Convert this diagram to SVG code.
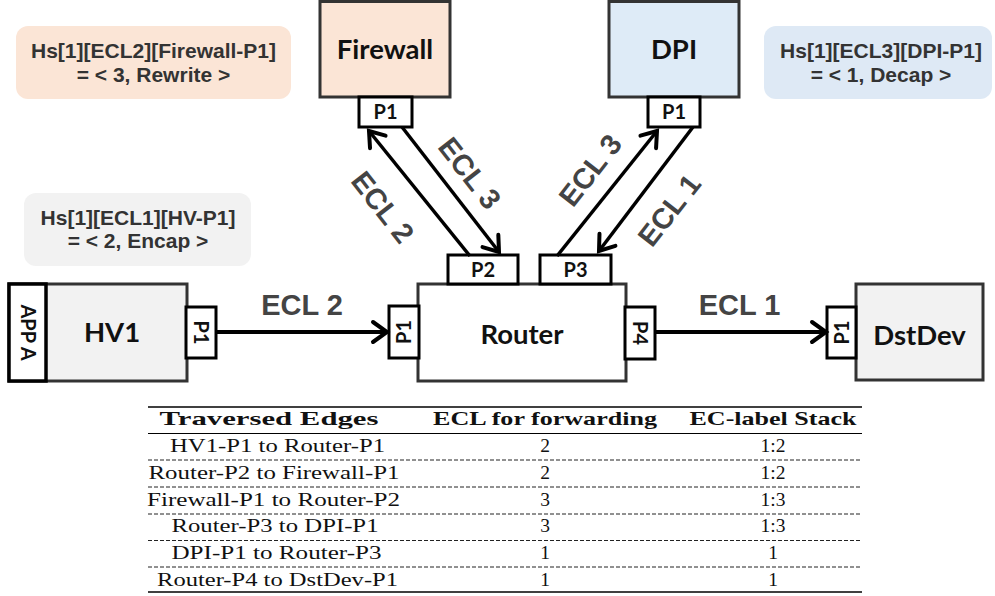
<svg xmlns="http://www.w3.org/2000/svg" width="995" height="596" viewBox="0 0 995 596">
  <defs>
    <style>
      .box { stroke: #333; stroke-width: 3; }
      .port { fill: #fff; stroke: #000; stroke-width: 3; }
      .name { font-family: Lato, "Open Sans", sans-serif; font-weight: 700; font-size: 27.5px; fill: #111; text-anchor: middle; }
      .pl { font-family: Lato, "Open Sans", sans-serif; font-weight: 700; font-size: 20px; fill: #111; text-anchor: middle; }
      .note { font-family: "Liberation Sans", Arial, sans-serif; font-weight: 700; font-size: 21px; fill: #333; text-anchor: middle; }
      .ecl { font-family: "Liberation Sans", Arial, sans-serif; font-weight: 700; font-size: 29px; fill: #444; text-anchor: middle; }
      .wire { stroke: #000; fill: none; }
      .th { font-family: "Liberation Serif", "Times New Roman", serif; font-weight: 700; font-size: 19.5px; fill: #111; text-anchor: middle; }
      .td { font-family: "Liberation Serif", "Times New Roman", serif; font-size: 19.5px; fill: #111; text-anchor: middle; }
      .rule { stroke: #000; }
      .dash { stroke: #222; stroke-width: 1; stroke-dasharray: 4 2; }
    </style>
    <marker id="chev" markerUnits="userSpaceOnUse" viewBox="-20 -14 24 28" markerWidth="24" markerHeight="28" refX="0" refY="0" orient="auto">
      <path d="M-14,-10 L0,0 L-14,10" fill="none" stroke="#000" stroke-width="4" stroke-linecap="round" stroke-linejoin="miter"/>
    </marker>
  </defs>

  <!-- header-action notes -->
  <g id="note-firewall">
    <rect x="16" y="26" width="275" height="73" rx="12" fill="#fbe5d6"/>
    <text class="note" x="153.5" y="58">Hs[1][ECL2][Firewall-P1]</text>
    <text class="note" x="153.5" y="82">=  &lt; 3, Rewrite &gt;</text>
  </g>
  <g id="note-dpi">
    <rect x="764" y="26" width="228" height="73" rx="12" fill="#dee9f5"/>
    <text class="note" x="881" y="58">Hs[1][ECL3][DPI-P1]</text>
    <text class="note" x="881" y="82">=  &lt; 1, Decap &gt;</text>
  </g>
  <g id="note-hv">
    <rect x="24" y="193" width="227" height="73" rx="12" fill="#f2f2f2"/>
    <text class="note" x="138" y="225">Hs[1][ECL1][HV-P1]</text>
    <text class="note" x="138" y="248">= &lt; 2, Encap &gt;</text>
  </g>

  <!-- nodes -->
  <g id="firewall">
    <rect class="box" x="320" y="1.5" width="130" height="95.5" fill="#fbe5d6"/>
    <text class="name" x="385" y="59">Firewall</text>
    <rect class="port" x="359" y="97" width="53" height="30"/>
    <text class="pl" x="385.5" y="119">P1</text>
  </g>
  <g id="dpi">
    <rect class="box" x="609" y="1.5" width="130" height="95.5" fill="#deebf7"/>
    <text class="name" x="674" y="59">DPI</text>
    <rect class="port" x="648" y="97" width="52" height="30"/>
    <text class="pl" x="674" y="119">P1</text>
  </g>
  <g id="hv1">
    <rect class="box" x="9" y="284" width="178" height="97" fill="#f2f2f2"/>
    <rect x="9" y="284" width="37" height="97" fill="#fff" stroke="#000" stroke-width="3.5"/>
    <text class="pl" transform="translate(27.5 332.5) rotate(90)" y="7">APP A</text>
    <text class="name" x="112" y="342">HV1</text>
    <rect class="port" x="186" y="307" width="30" height="51"/>
    <text class="pl" transform="translate(201 332.5) rotate(90)" y="7">P1</text>
  </g>
  <g id="router">
    <rect class="box" x="418" y="284" width="208" height="97" fill="#fff"/>
    <text class="name" x="522" y="344">Router</text>
    <rect class="port" x="448" y="255" width="70" height="29"/>
    <text class="pl" x="483" y="277">P2</text>
    <rect class="port" x="540" y="255" width="71" height="29"/>
    <text class="pl" x="575.5" y="277">P3</text>
    <rect class="port" x="389" y="306" width="30" height="52"/>
    <text class="pl" transform="translate(404 332) rotate(-90)" y="7">P1</text>
    <rect class="port" x="625" y="307" width="30" height="52"/>
    <text class="pl" transform="translate(640 333) rotate(90)" y="7">P4</text>
  </g>
  <g id="dstdev">
    <rect class="box" x="856" y="284" width="127" height="96" fill="#f2f2f2"/>
    <text class="name" x="919.5" y="345">DstDev</text>
    <rect class="port" x="827" y="307" width="29" height="51"/>
    <text class="pl" transform="translate(841.5 332.5) rotate(-90)" y="7">P1</text>
  </g>

  <!-- connectors -->
  <g id="connectors">
    <line class="wire" x1="216" y1="332" x2="387" y2="332" stroke-width="4" marker-end="url(#chev)"/>
    <line class="wire" x1="655" y1="332" x2="826" y2="332" stroke-width="4" marker-end="url(#chev)"/>
    <line class="wire" x1="470" y1="256" x2="369" y2="131" stroke-width="3.5" marker-end="url(#chev)"/>
    <line class="wire" x1="402" y1="127" x2="499" y2="252" stroke-width="3.5" marker-end="url(#chev)"/>
    <line class="wire" x1="557" y1="256" x2="657" y2="131" stroke-width="3.5" marker-end="url(#chev)"/>
    <line class="wire" x1="693" y1="127" x2="599" y2="251" stroke-width="3.5" marker-end="url(#chev)"/>
  </g>

  <!-- edge labels -->
  <g id="edge-labels">
    <text class="ecl" x="302" y="315">ECL 2</text>
    <text class="ecl" x="739.5" y="315">ECL 1</text>
    <text class="ecl" transform="translate(383 207) rotate(52)" y="10.4">ECL 2</text>
    <text class="ecl" transform="translate(470 173) rotate(52)" y="10.4">ECL 3</text>
    <text class="ecl" transform="translate(590 170) rotate(-52)" y="10.4">ECL 3</text>
    <text class="ecl" transform="translate(669 210) rotate(-52)" y="10.4">ECL 1</text>
  </g>

  <!-- forwarding table -->
  <g id="table">
    <line class="rule" x1="148" y1="407" x2="862" y2="407" stroke-width="1.6"/>
    <line class="rule" x1="148" y1="433.5" x2="862" y2="433.5" stroke-width="1"/>
    <line class="dash" x1="148" y1="460" x2="862" y2="460"/>
    <line class="dash" x1="148" y1="487" x2="862" y2="487"/>
    <line class="dash" x1="148" y1="514" x2="862" y2="514"/>
    <line class="dash" x1="148" y1="540.5" x2="862" y2="540.5"/>
    <line class="dash" x1="148" y1="567" x2="862" y2="567"/>
    <line class="rule" x1="148" y1="592" x2="862" y2="592" stroke-width="1.6"/>

    <text class="th" x="269" y="425" textLength="219" lengthAdjust="spacingAndGlyphs">Traversed Edges</text>
    <text class="th" x="545" y="425" textLength="224" lengthAdjust="spacingAndGlyphs">ECL for forwarding</text>
    <text class="th" x="773" y="425" textLength="167" lengthAdjust="spacingAndGlyphs">EC-label Stack</text>

    <text class="td" x="277.5" y="452" textLength="215" lengthAdjust="spacingAndGlyphs">HV1-P1 to Router-P1</text>
    <text class="td" x="545" y="452">2</text>
    <text class="td" x="773" y="452">1:2</text>

    <text class="td" x="274" y="479" textLength="251" lengthAdjust="spacingAndGlyphs">Router-P2 to Firewall-P1</text>
    <text class="td" x="545" y="479">2</text>
    <text class="td" x="773" y="479">1:2</text>

    <text class="td" x="273.5" y="505.5" textLength="253" lengthAdjust="spacingAndGlyphs">Firewall-P1 to Router-P2</text>
    <text class="td" x="545" y="505.5">3</text>
    <text class="td" x="773" y="505.5">1:3</text>

    <text class="td" x="275" y="532" textLength="207" lengthAdjust="spacingAndGlyphs">Router-P3 to DPI-P1</text>
    <text class="td" x="545" y="532">3</text>
    <text class="td" x="773" y="532">1:3</text>

    <text class="td" x="276.5" y="559" textLength="210" lengthAdjust="spacingAndGlyphs">DPI-P1 to Router-P3</text>
    <text class="td" x="545" y="559">1</text>
    <text class="td" x="773" y="559">1</text>

    <text class="td" x="277.5" y="585.5" textLength="241" lengthAdjust="spacingAndGlyphs">Router-P4 to DstDev-P1</text>
    <text class="td" x="545" y="585.5">1</text>
    <text class="td" x="773" y="585.5">1</text>
  </g>
</svg>
